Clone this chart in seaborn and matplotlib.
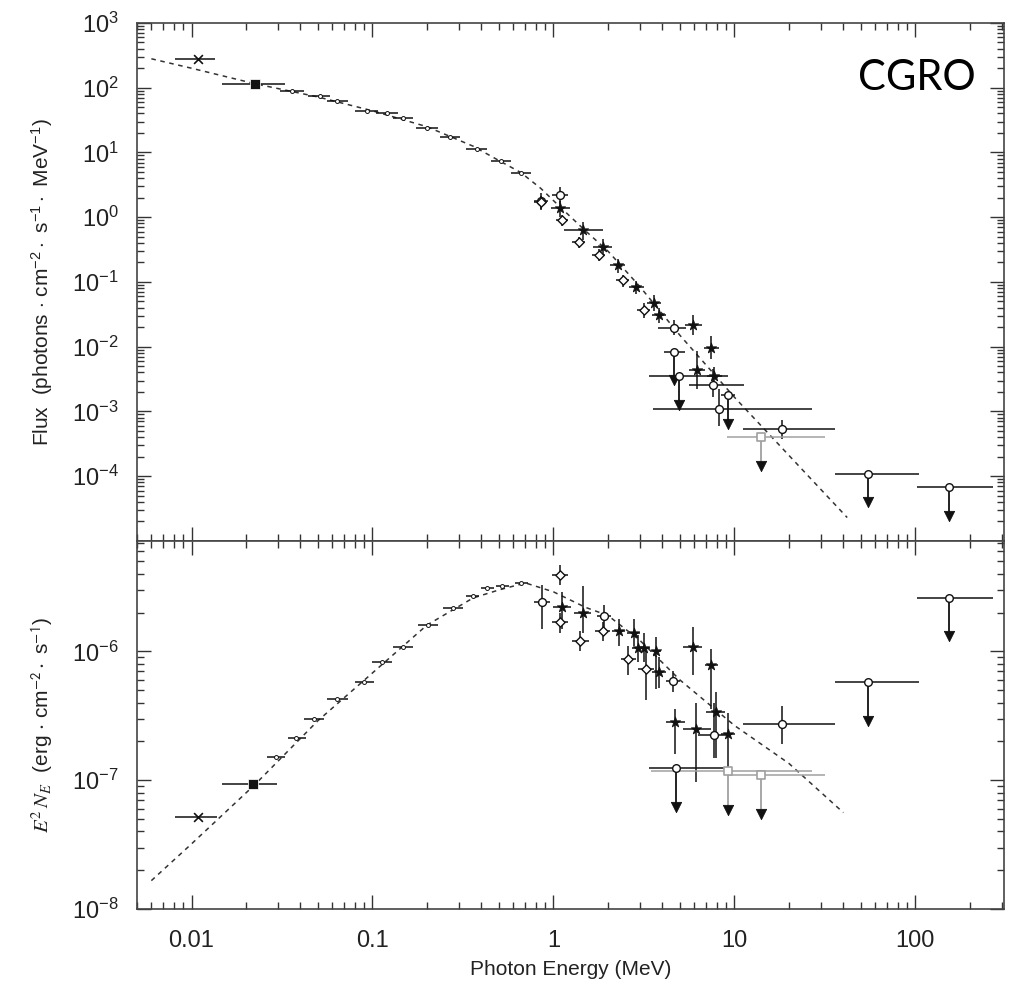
import numpy as np
import pandas as pd
import matplotlib
matplotlib.use('Agg')
import matplotlib.pyplot as plt
import matplotlib.ticker as mticker
import seaborn as sns

# ---------------------------------------------------------------------
# Dados (energia em MeV)
# ---------------------------------------------------------------------
# painel superior: fluxo (photons cm^-2 s^-1 MeV^-1)
top_model_e = [0.006, 0.01, 0.0225, 0.05, 0.1, 0.2, 0.36, 0.5, 0.66, 0.85, 1.1, 1.5, 2.0, 3.0, 5.0, 10, 20, 42]
top_model_f = [280, 200, 115, 72, 44, 25, 12.5, 7.5, 4.9, 2.8, 1.4, 0.62, 0.3, 0.085, 0.015, 1.66e-3, 2.1e-4, 2.3e-5]

top_low_e = [0.036, 0.051, 0.064, 0.093, 0.12, 0.147, 0.2, 0.268, 0.378, 0.51, 0.66]
top_low_f = [90, 75, 63, 44, 40, 33.5, 24.2, 17.6, 11.5, 7.3, 4.9]
top_low_xlo = [0.031, 0.044, 0.056, 0.08, 0.105, 0.13, 0.175, 0.235, 0.33, 0.45, 0.58]
top_low_xhi = [0.042, 0.058, 0.073, 0.107, 0.138, 0.168, 0.23, 0.305, 0.43, 0.58, 0.75]

top_x_pt = [0.0108, 280, 0.0081, 0.0135]   # e, f, e_lo, e_hi
top_sq_pt = [0.0223, 115, 0.0147, 0.033]

top_star_e = [1.09, 1.45, 1.87, 2.27, 2.86, 3.6, 3.83, 5.9, 7.45, 6.2, 7.75]
top_star_f = [1.37, 0.63, 0.35, 0.18, 0.084, 0.047, 0.031, 0.022, 0.0097, 0.0044, 0.0035]
top_star_xlo = [0.97, 1.14, 1.65, 2.05, 2.6, 3.3, 3.5, 5.3, 6.8, 5.6, 7.1]
top_star_xhi = [1.23, 1.87, 2.1, 2.5, 3.15, 3.95, 4.2, 6.6, 8.2, 6.9, 8.5]
top_star_ylo = [1.0, 0.45, 0.25, 0.14, 0.065, 0.035, 0.023, 0.015, 0.0065, 0.0022, 0.0025]
top_star_yhi = [1.8, 0.85, 0.46, 0.23, 0.105, 0.062, 0.04, 0.031, 0.0145, 0.0085, 0.0048]

top_circ_e = [0.85, 1.09, 4.65, 7.6, 8.25, 18.3]
top_circ_f = [1.8, 2.2, 0.0196, 0.0026, 1.1e-3, 5.4e-4]
top_circ_xlo = [0.78, 0.98, 3.8, 5.6, 3.55, 11.2]
top_circ_xhi = [0.93, 1.2, 5.4, 11.3, 26.7, 36]
top_circ_ylo = [1.3, 1.6, 0.015, 0.0017, 6e-4, 3.8e-4]
top_circ_yhi = [2.4, 2.9, 0.026, 0.0045, 2.2e-3, 7.5e-4]

top_diam_e = [0.85, 1.12, 1.38, 1.78, 2.42, 3.16]
top_diam_f = [1.7, 0.9, 0.41, 0.26, 0.107, 0.037]
top_diam_xlo = [0.78, 1.03, 1.27, 1.64, 2.23, 2.9]
top_diam_xhi = [0.92, 1.21, 1.5, 1.93, 2.62, 3.42]
top_diam_ylo = [1.35, 0.72, 0.33, 0.21, 0.085, 0.028]
top_diam_yhi = [2.1, 1.1, 0.5, 0.32, 0.13, 0.047]

top_ul_e = [4.65, 4.95, 9.2, 14.1, 55, 154]
top_ul_f = [0.0084, 0.0035, 0.0018, 4.0e-4, 1.1e-4, 6.7e-5]
top_ul_xlo = [4.1, 3.37, 8.4, 9.1, 36, 102]
top_ul_xhi = [5.3, 9.2, 10.1, 31.6, 105, 268]
top_ul_grey = [False, False, False, True, False, False]

top_y_ticks = [1e-4, 1e-3, 1e-2, 1e-1, 1, 10, 100, 1000]

# painel inferior: E^2 N_E (erg cm^-2 s^-1)
bot_model_e = [0.006, 0.01, 0.0225, 0.05, 0.1, 0.2, 0.36, 0.5, 0.7, 1.0, 1.5, 2.0, 3.0, 5.0, 10, 20, 40]
bot_model_f = [1.66e-8, 3.2e-8, 9.3e-8, 2.9e-7, 6.8e-7, 1.6e-6, 2.6e-6, 3.0e-6, 3.4e-6, 2.9e-6, 2.2e-6, 1.9e-6,
               1.22e-6, 6.0e-7, 2.66e-7, 1.35e-7, 5.6e-8]

bot_low_e = [0.0294, 0.0377, 0.0477, 0.064, 0.090, 0.1135, 0.147, 0.202, 0.278, 0.36, 0.43, 0.52, 0.66]
bot_low_f = [1.51e-7, 2.12e-7, 2.97e-7, 4.25e-7, 5.75e-7, 8.2e-7, 1.09e-6, 1.59e-6, 2.19e-6, 2.67e-6, 3.08e-6,
             3.2e-6, 3.4e-6]
bot_low_xlo = [0.026, 0.034, 0.042, 0.056, 0.08, 0.1, 0.13, 0.178, 0.245, 0.33, 0.4, 0.48, 0.61]
bot_low_xhi = [0.033, 0.043, 0.054, 0.073, 0.102, 0.128, 0.167, 0.23, 0.315, 0.39, 0.47, 0.57, 0.72]

bot_x_pt = [0.0108, 5.2e-8, 0.0081, 0.0138]
bot_sq_pt = [0.022, 9.3e-8, 0.0147, 0.0297]

bot_star_e = [1.12, 1.45, 2.3, 2.78, 2.93, 3.16, 3.68, 3.83, 5.9, 4.7, 6.16, 7.45, 7.9, 9.2]
bot_star_f = [2.23e-6, 2.0e-6, 1.43e-6, 1.4e-6, 1.07e-6, 1.07e-6, 1.0e-6, 6.9e-7, 1.09e-6, 2.82e-7, 2.49e-7,
              7.9e-7, 3.37e-7, 2.27e-7]
bot_star_xlo = [1.0, 1.3, 2.1, 2.55, 2.7, 2.9, 3.4, 3.5, 5.2, 4.2, 5.2, 6.9, 7.0, 8.4]
bot_star_xhi = [1.25, 1.62, 2.5, 3.0, 3.15, 3.4, 3.95, 4.2, 6.6, 5.3, 7.4, 8.1, 8.9, 10.1]
bot_star_ylo = [1.5e-6, 1.4e-6, 1.1e-6, 1.1e-6, 8.3e-7, 8.3e-7, 5.1e-7, 5.2e-7, 6.6e-7, 1.6e-7, 9.6e-8,
                3.55e-7, 1.5e-7, 1.2e-7]
bot_star_yhi = [2.9e-6, 3.2e-6, 1.8e-6, 1.8e-6, 1.35e-6, 1.4e-6, 1.3e-6, 9.0e-7, 1.54e-6, 3.6e-7, 4.0e-7,
                1.04e-6, 4.8e-7, 3.3e-7]

bot_circ_e = [0.87, 1.9, 4.58, 7.75, 18.3]
bot_circ_f = [2.4e-6, 1.87e-6, 5.85e-7, 2.23e-7, 2.72e-7]
bot_circ_xlo = [0.78, 1.75, 4.2, 6.3, 11.2]
bot_circ_xhi = [0.96, 2.08, 5.0, 9.6, 36]
bot_circ_ylo = [1.5e-6, 1.5e-6, 4.8e-7, 1.5e-7, 1.9e-7]
bot_circ_yhi = [3.3e-6, 2.3e-6, 7.0e-7, 4.0e-7, 3.8e-7]

bot_diam_e = [1.09, 1.09, 1.41, 1.87, 2.58, 3.25]
bot_diam_f = [3.95e-6, 1.68e-6, 1.2e-6, 1.43e-6, 8.7e-7, 7.25e-7]
bot_diam_xlo = [0.98, 0.98, 1.27, 1.7, 2.35, 2.95]
bot_diam_xhi = [1.21, 1.21, 1.57, 2.06, 2.85, 3.6]
bot_diam_ylo = [3.3e-6, 1.4e-6, 1.0e-6, 1.2e-6, 6.5e-7, 4.2e-7]
bot_diam_yhi = [4.7e-6, 2.0e-6, 1.45e-6, 1.7e-6, 1.1e-6, 1.0e-6]

bot_ul_e = [4.75, 9.2, 14.1, 55, 154]
bot_ul_f = [1.24e-7, 1.17e-7, 1.1e-7, 5.75e-7, 2.62e-6]
bot_ul_xlo = [3.37, 3.45, 9.1, 36, 102]
bot_ul_xhi = [9.1, 26.7, 31.6, 105, 268]
bot_ul_grey = [False, True, True, False, False]

bot_y_ticks = [1e-8, 1e-7, 1e-6]
x_ticks = [0.01, 0.1, 1, 10, 100]

# ---------------------------------------------------------------------
# Estilo
# ---------------------------------------------------------------------
sns.set_style('ticks')
plt.rcParams['font.family'] = ['Liberation Sans', 'DejaVu Sans']
plt.rcParams['mathtext.fontset'] = 'custom'
plt.rcParams['mathtext.rm'] = 'Liberation Sans'
plt.rcParams['mathtext.it'] = 'Liberation Sans:italic'
plt.rcParams['mathtext.bf'] = 'Liberation Sans:bold'

PRETO = '#111111'
CINZA = '#a0a0a0'
TXT = '#222222'


def barras(ax, e, f, xlo, xhi, ylo=None, yhi=None, cor=PRETO):
    e = np.asarray(e, float)
    f = np.asarray(f, float)
    xerr = [e - np.asarray(xlo), np.asarray(xhi) - e]
    yerr = None
    if ylo is not None:
        yerr = [f - np.asarray(ylo), np.asarray(yhi) - f]
    ax.errorbar(e, f, xerr=xerr, yerr=yerr, fmt='none', ecolor=cor, elinewidth=1.1, capsize=0, zorder=2)


def limites(ax, e, f, xlo, xhi, grey, fator):
    for ei, fi, lo, hi, g in zip(e, f, xlo, xhi, grey):
        cor = CINZA if g else PRETO
        ax.hlines(fi, lo, hi, color=cor, lw=1.1, zorder=2)
        ax.vlines(ei, fi * fator, fi, color=cor, lw=1.3, zorder=2)
    df = pd.DataFrame({'e': e, 'f': np.asarray(f) * fator})
    sns.scatterplot(data=df, x='e', y='f', marker='v', s=55, color=PRETO, edgecolor=PRETO, ax=ax, zorder=4)
    df2 = pd.DataFrame({'e': e, 'f': f, 'g': grey})
    sns.scatterplot(data=df2[~df2.g], x='e', y='f', marker='o', s=30, color='white', edgecolor=PRETO,
                    linewidth=1, ax=ax, zorder=4)
    sns.scatterplot(data=df2[df2.g], x='e', y='f', marker='s', s=38, color='white', edgecolor=CINZA,
                    linewidth=1.2, ax=ax, zorder=4)


def painel(ax, m_e, m_f, low, xpt, sqpt, star, circ, diam, ul, fator):
    ax.set_xscale('log')
    ax.set_yscale('log')
    sns.lineplot(x=m_e, y=m_f, ax=ax, color='#333333', lw=1.1, linestyle=(0, (3, 3)), zorder=1)

    # pontos de baixa energia (barras curtas)
    barras(ax, low[0], low[1], low[2], low[3])
    sns.scatterplot(x=low[0], y=low[1], marker='o', s=8, color='white', edgecolor=PRETO, linewidth=0.7,
                    ax=ax, zorder=3)

    barras(ax, [xpt[0]], [xpt[1]], [xpt[2]], [xpt[3]])
    sns.scatterplot(x=[xpt[0]], y=[xpt[1]], marker='x', s=40, color=PRETO, linewidth=1.2, ax=ax, zorder=3)
    barras(ax, [sqpt[0]], [sqpt[1]], [sqpt[2]], [sqpt[3]])
    sns.scatterplot(x=[sqpt[0]], y=[sqpt[1]], marker='s', s=45, color=PRETO, ax=ax, zorder=3)

    barras(ax, *circ)
    sns.scatterplot(x=circ[0], y=circ[1], marker='o', s=32, color='white', edgecolor=PRETO, linewidth=1,
                    ax=ax, zorder=3)
    barras(ax, *diam)
    sns.scatterplot(x=diam[0], y=diam[1], marker='D', s=22, color='white', edgecolor=PRETO, linewidth=1,
                    ax=ax, zorder=3)
    barras(ax, *star)
    sns.scatterplot(x=star[0], y=star[1], marker='*', s=60, color=PRETO, edgecolor=PRETO, ax=ax, zorder=3)

    limites(ax, *ul, fator)

    ax.set_xlim(0.005, 310)
    ax.xaxis.set_major_locator(mticker.LogLocator(base=10, numticks=20))
    ax.xaxis.set_minor_locator(mticker.LogLocator(base=10, subs=np.arange(2, 10), numticks=40))
    ax.xaxis.set_minor_formatter(mticker.NullFormatter())
    ax.yaxis.set_minor_locator(mticker.LogLocator(base=10, subs=np.arange(2, 10), numticks=40))
    ax.yaxis.set_minor_formatter(mticker.NullFormatter())
    ax.tick_params(which='both', direction='in', top=True, right=True, colors='#333333',
                   labelcolor=TXT, labelsize=17, width=1)
    ax.tick_params(which='major', length=10, pad=13)
    ax.tick_params(which='minor', length=5)
    for s in ax.spines.values():
        s.set_linewidth(1.2)
        s.set_color('#444444')
    ax.set_xlabel('')
    ax.set_ylabel('')


fig = plt.figure(figsize=(10.12, 9.99), dpi=100)
ax1 = fig.add_axes([0.1354, 0.4585, 0.857, 0.5185])
ax2 = fig.add_axes([0.1354, 0.0901, 0.857, 0.3684])

painel(ax1, top_model_e, top_model_f,
       (top_low_e, top_low_f, top_low_xlo, top_low_xhi), top_x_pt, top_sq_pt,
       (top_star_e, top_star_f, top_star_xlo, top_star_xhi, top_star_ylo, top_star_yhi),
       (top_circ_e, top_circ_f, top_circ_xlo, top_circ_xhi, top_circ_ylo, top_circ_yhi),
       (top_diam_e, top_diam_f, top_diam_xlo, top_diam_xhi, top_diam_ylo, top_diam_yhi),
       (top_ul_e, top_ul_f, top_ul_xlo, top_ul_xhi, top_ul_grey), 0.36)
painel(ax2, bot_model_e, bot_model_f,
       (bot_low_e, bot_low_f, bot_low_xlo, bot_low_xhi), bot_x_pt, bot_sq_pt,
       (bot_star_e, bot_star_f, bot_star_xlo, bot_star_xhi, bot_star_ylo, bot_star_yhi),
       (bot_circ_e, bot_circ_f, bot_circ_xlo, bot_circ_xhi, bot_circ_ylo, bot_circ_yhi),
       (bot_diam_e, bot_diam_f, bot_diam_xlo, bot_diam_xhi, bot_diam_ylo, bot_diam_yhi),
       (bot_ul_e, bot_ul_f, bot_ul_xlo, bot_ul_xhi, bot_ul_grey), 0.5)

ax1.set_yticks(top_y_ticks)
ax1.yaxis.set_major_formatter(mticker.LogFormatterSciNotation())
ax1.set_ylim(1e-5, 1e3)
ax1.tick_params(axis='x', which='both', labelbottom=False)

ax2.set_yticks(bot_y_ticks)
ax2.yaxis.set_major_formatter(mticker.LogFormatterSciNotation())
ax2.set_ylim(1e-8, 7.2e-6)
ax2.set_xticks(x_ticks)
ax2.xaxis.set_major_formatter(mticker.FuncFormatter(lambda v, p: f'{v:g}'))
ax2.tick_params(axis='x', which='major', pad=15)

ax1.set_ylabel(r'Flux  (photons $\cdot$ cm$^{-2}\cdot$ s$^{-1}\cdot$ MeV$^{-1}$)', fontsize=15, color=TXT)
ax1.yaxis.set_label_coords(-0.095, 0.5)
ax2.set_ylabel(r'$E^2\,N_E$  (erg$\,\cdot\,$cm$^{\mathsf{-2}}\cdot$ s$^{\mathsf{-1}}$)', fontsize=15,
               color=TXT, math_fontfamily='stix')
ax2.yaxis.set_label_coords(-0.095, 0.5)
ax2.set_xlabel('Photon Energy (MeV)', fontsize=15, color=TXT, labelpad=6)

fig.text(917 / 1012, 1 - 78 / 999, 'CGRO', ha='center', va='center', fontsize=30, family='Lato', color='black')

fig.savefig('out.png', dpi=100)
